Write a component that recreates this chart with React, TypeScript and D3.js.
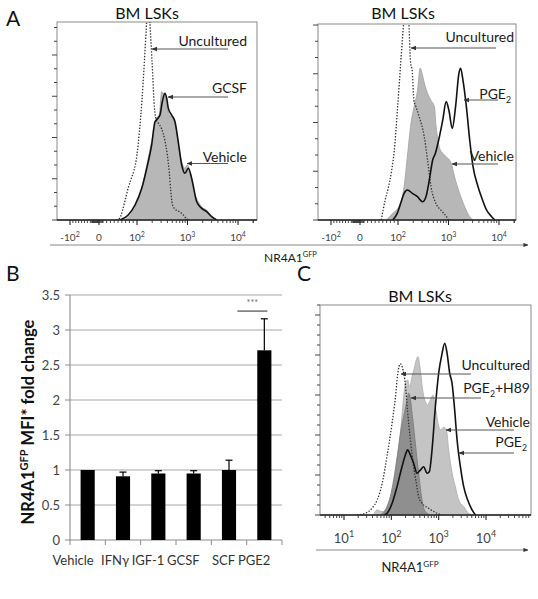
import React from "react";
import * as d3 from "d3";

type Pt = [number, number];

const W = 538;
const H = 599;

// ---------- Panel A (left): GCSF vs Vehicle vs Uncultured  [intensity, % of max] ----------
const aLeftUncultured: Pt[] = [
  [45, 0], [55, 1], [62, 5], [70, 11], [78, 17], [85, 21], [92, 25], [100, 33], [112, 45],
  [125, 60], [140, 80], [155, 100], [168, 114], [180, 100], [189, 90], [205, 73], [217, 60],
  [238, 51], [264, 49], [308, 46], [358, 40], [398, 33], [436, 24], [465, 15], [500, 8],
  [565, 5.5], [710, 4], [826, 2.5], [966, 0.5], [1050, 0],
];
const aLeftVehicle: Pt[] = [
  [68, 0], [89, 4.2], [115, 12.6], [156, 27.8], [195, 39.5], [227, 48], [245, 51.4], [276, 53],
  [308, 64.8], [332, 64], [358, 63.1], [387, 58.1], [436, 53], [523, 51.4], [592, 46.5],
  [657, 37.9], [768, 29.4], [892, 26.1], [991, 27.8], [1121, 24.4], [1303, 16], [1636, 9.2],
  [2056, 5.9], [2400, 5], [2791, 2.5], [3505, 0],
];
const aLeftGCSF: Pt[] = [
  [55, 0], [77, 2.5], [95, 7.6], [124, 16], [156, 26.1], [195, 37.9], [227, 49.6], [252, 51],
  [285, 53], [317, 59.7], [358, 64], [387, 61.5], [417, 56.4], [486, 53], [565, 49.6],
  [657, 39.5], [768, 27.8], [892, 23.6], [1038, 26.1], [1211, 21], [1521, 9.2], [1910, 5.9],
  [2400, 4.2], [3015, 1.7], [3788, 0],
];

// ---------- Panel A (right): PGE2 vs Vehicle vs Uncultured ----------
const aRightUncultured: Pt[] = [
  [56, 0], [66, 10], [74, 16], [83, 25], [90, 35], [98, 55], [113, 80], [122, 92], [130, 101],
  [145, 115], [164, 100.5], [176, 81.6], [193, 74.8], [206, 61.2], [226, 57.8], [263, 52.7],
  [331, 42.5], [385, 30.6], [451, 17], [562, 8.5], [708, 5], [912, 1.7], [1000, 0],
];
const aRightVehicle: Pt[] = [
  [70, 0], [86, 3.4], [105, 7], [132, 17], [153, 32], [180, 49], [209, 58], [243, 66],
  [275, 77.5], [298, 75], [331, 70], [385, 64.6], [451, 61], [525, 57.8], [568, 47.6],
  [661, 37], [769, 34], [899, 32.3], [1132, 28.9], [1318, 22], [1660, 13.6], [2089, 6.8],
  [2630, 1.7], [3062, 0],
];
const aRightPGE2: Pt[] = [
  [86, 0], [98, 3.4], [113, 8.5], [132, 13.6], [153, 15.3], [193, 13.6], [243, 11.9],
  [306, 9.3], [358, 11.9], [417, 20.4], [486, 30.6], [550, 34], [639, 40.8], [769, 51],
  [899, 60.4], [1016, 56.1], [1186, 46.8], [1380, 57.8], [1607, 74.8], [1738, 77.4],
  [1932, 71.4], [2259, 57.8], [2630, 40.8], [3062, 27.2], [3846, 17], [4721, 10.2],
  [5675, 5.1], [7145, 1.7], [8318, 0],
];

// ---------- Panel C ----------
const cUncultured: Pt[] = [
  [19, 0], [28, 0.8], [39, 3.2], [50, 7.1], [64, 15], [81, 28], [104, 44], [122, 56], [136, 67],
  [155, 72], [177, 69], [198, 62], [221, 49], [252, 36], [296, 23], [338, 15], [378, 8.7],
  [446, 5.6], [615, 3.2], [925, 0.8], [1181, 0],
];
const cVehicle: Pt[] = [
  [42, 0], [50, 2.4], [64, 1.6], [81, 3.2], [104, 8.7], [132, 23], [160, 42], [182, 56],
  [198, 62.7], [221, 64.3], [244, 61], [274, 66], [306, 70], [338, 74], [367, 75.4], [410, 69],
  [459, 59.5], [523, 54], [585, 52.4], [668, 54.8], [762, 57], [852, 51.6], [970, 43.7],
  [1086, 40.5], [1276, 41.8], [1455, 40.5], [1627, 31], [1919, 20], [2253, 13.5], [2648, 7.1],
  [3379, 4], [4309, 0.8], [5500, 0],
];
const cH89: Pt[] = [
  [58, 0], [81, 4], [95, 8.7], [112, 16.7], [136, 29.4], [160, 40.5], [188, 48.4], [215, 54.8],
  [232, 58], [252, 55.6], [274, 48.4], [306, 38.9], [338, 29.4], [378, 20], [424, 10.3],
  [482, 3.2], [569, 0.8], [668, 0],
];
const cPGE2: Pt[] = [
  [70, 0], [81, 0.8], [104, 5.6], [132, 13.5], [168, 23], [198, 28.6], [221, 31], [252, 28.6],
  [296, 24.6], [349, 19.9], [410, 21.4], [482, 23], [569, 19.9], [635, 20.6], [724, 31],
  [852, 51.6], [1000, 67.5], [1181, 77], [1341, 81.8], [1506, 77], [1711, 67.5], [1919, 62.7],
  [2148, 51.6], [2449, 35.7], [2876, 23], [3379, 13.5], [4105, 7.1], [5080, 2.4], [5970, 0],
];

// ---------- Panel B ----------
const barCategories = ["Vehicle", "IFNγ", "IGF-1", "GCSF", "SCF", "PGE2"];
const barValues = [1.0, 0.91, 0.95, 0.95, 1.0, 2.71];
const barErrors = [0, 0.06, 0.04, 0.04, 0.14, 0.45];
const barYTicks = [0, 0.5, 1, 1.5, 2, 2.5, 3, 3.5];
const sigLevel = 3.27;
const sigLabel = "***";

// ---------- Axis tick values ----------
const aMajorTicks = [-100, 0, 100, 1000, 10000];
const aTickLabels: [string, string][] = [["-10", "2"], ["0", ""], ["10", "2"], ["10", "3"], ["10", "4"]];
const cMajorTicks = [10, 100, 1000, 10000];
const cTickLabels: [string, string][] = [["10", "1"], ["10", "2"], ["10", "3"], ["10", "4"]];

const FONT = "Lato, 'Open Sans', sans-serif";

function biexScale(x0: number) {
  const lin = d3.scaleLinear().domain([-100, 0, 100]).range([x0 + 13, x0 + 42, x0 + 80]);
  const lg = d3.scaleLog().domain([100, 10000]).range([x0 + 80, x0 + 181]);
  return (v: number) => (v >= 100 ? lg(v) : lin(v));
}

function aMinorTicks(): number[] {
  const t: number[] = [];
  for (let v = -90; v <= 90; v += 10) if (v !== 0) t.push(v);
  for (let v = -25; v <= 10; v += 2.5) t.push(v);
  for (let k = 2; k <= 4; k++) for (let m = 2; m <= 9; m++) t.push(m * Math.pow(10, k));
  t.push(20000);
  return t;
}

function cMinorTicks(lo: number, hi: number): number[] {
  const t: number[] = [];
  for (let k = 0; k <= 4; k++) for (let m = 2; m <= 9; m++) {
    const v = m * Math.pow(10, k);
    if (v >= lo && v <= hi) t.push(v);
  }
  return t;
}

type Series = { data: Pt[]; kind: "area" | "line" | "dotted"; fill?: string; stroke?: string };

function Label({ x, y, parts, size, anchor = "end", weight = 400 }: {
  x: number; y: number; parts: { t: string; sub?: boolean; sup?: boolean }[]; size: number; anchor?: string; weight?: number;
}) {
  return (
    <text x={x} y={y} fontSize={size} fontFamily={FONT} textAnchor={anchor} fill="#1a1a1a" fontWeight={weight}>
      {parts.map((p, i) =>
        p.sub ? (
          <tspan key={i} fontSize={size * 0.62} dy={size * 0.28}>{p.t}</tspan>
        ) : p.sup ? (
          <tspan key={i} fontSize={size * 0.62} dy={-size * 0.38}>{p.t}</tspan>
        ) : (
          <tspan key={i} dy={i > 0 && (parts[i - 1].sub) ? -size * 0.28 : i > 0 && parts[i - 1].sup ? size * 0.38 : 0}>{p.t}</tspan>
        )
      )}
    </text>
  );
}

function Arrow({ x1, x2, y }: { x1: number; x2: number; y: number }) {
  return <line x1={x1} x2={x2} y1={y} y2={y} stroke="#555" strokeWidth={1.1} markerEnd="url(#ah)" />;
}

function HistPanel(props: {
  id: string; x0: number; x1: number; yTop: number; yBase: number;
  xs: (v: number) => number; yStep: number; majorEvery: number;
  majorTicks: number[]; minorTicks: number[]; tickLabels: [string, string][]; labelY: number; labelSize: number;
  series: Series[];
}) {
  const { id, x0, x1, yTop, yBase, xs, yStep, majorEvery, majorTicks, minorTicks, tickLabels, labelY, labelSize, series } = props;
  const ys = d3.scaleLinear().domain([0, 100]).range([yBase, yTop]);
  const area = d3.area<Pt>().x((d) => xs(d[0])).y0(yBase).y1((d) => ys(d[1])).curve(d3.curveMonotoneX);
  const line = d3.line<Pt>().x((d) => xs(d[0])).y((d) => ys(d[1])).curve(d3.curveMonotoneX);
  const yTicks = d3.range(0, 100.01, yStep);
  return (
    <g>
      <clipPath id={id}>
        <rect x={x0} y={yTop} width={x1 - x0} height={yBase - yTop} />
      </clipPath>
      <rect x={x0} y={yTop} width={x1 - x0} height={yBase - yTop} fill="#fff" stroke="#8a8a8a" strokeWidth={1} />
      <g clipPath={`url(#${id})`}>
        {series.map((s, i) =>
          s.kind === "area" ? (
            <path key={i} d={area(s.data) || ""} fill={s.fill} stroke={s.stroke} strokeWidth={0.9} />
          ) : s.kind === "dotted" ? (
            <path key={i} d={line(s.data) || ""} fill="none" stroke="#333" strokeWidth={1.3} strokeDasharray="1.4,1.6" />
          ) : (
            <path key={i} d={line(s.data) || ""} fill="none" stroke={s.stroke || "#111"} strokeWidth={1.6} />
          )
        )}
      </g>
      <line x1={x0} x2={x1} y1={yBase} y2={yBase} stroke="#222" strokeWidth={1.3} />
      {yTicks.map((t, i) => (
        <line key={i} x1={x0} x2={x0 - (i % majorEvery === 0 ? 5 : 3)} y1={ys(t)} y2={ys(t)} stroke="#444" strokeWidth={1} />
      ))}
      {minorTicks.map((t, i) => {
        const x = xs(t);
        if (x < x0 || x > x1) return null;
        return <line key={"m" + i} x1={x} x2={x} y1={yBase} y2={yBase + 3} stroke="#333" strokeWidth={0.9} />;
      })}
      {majorTicks.map((t, i) => (
        <line key={"M" + i} x1={xs(t)} x2={xs(t)} y1={yBase} y2={yBase + 5} stroke="#222" strokeWidth={1.1} />
      ))}
      {majorTicks.map((t, i) => (
        <text key={"L" + i} x={xs(t)} y={labelY} fontSize={labelSize} fontFamily={FONT} fill="#444" textAnchor="middle">
          {tickLabels[i][0]}
          {tickLabels[i][1] && (
            <tspan fontSize={labelSize * 0.7} dy={-labelSize * 0.45}>{tickLabels[i][1]}</tspan>
          )}
        </text>
      ))}
    </g>
  );
}

function PanelB() {
  const xb = d3.scaleBand<string>().domain(barCategories).range([70, 282]).paddingInner(0.6).paddingOuter(0.3);
  const yb = d3.scaleLinear().domain([0, 3.5]).range([540, 295]);
  const step = xb.step();
  const bw = xb.bandwidth();
  const pgeX = (xb("PGE2") as number) + bw / 2;
  return (
    <g>
      {barYTicks.filter((t) => t > 0).map((t) => (
        <line key={t} x1={70} x2={282} y1={yb(t)} y2={yb(t)} stroke="#a8a8a8" strokeWidth={1.1} />
      ))}
      <line x1={70} x2={70} y1={yb(3.5)} y2={yb(0)} stroke="#8c8c8c" strokeWidth={1.1} />
      <line x1={70} x2={282} y1={yb(0)} y2={yb(0)} stroke="#8c8c8c" strokeWidth={1.1} />
      {barYTicks.map((t) => (
        <g key={"t" + t}>
          <line x1={65} x2={70} y1={yb(t)} y2={yb(t)} stroke="#8c8c8c" />
          <text x={60} y={yb(t)} dy="0.35em" fontSize={13} fontFamily={FONT} fill="#444" textAnchor="end">{t}</text>
        </g>
      ))}
      {d3.range(0, barCategories.length + 1).map((i) => (
        <line key={"xt" + i} x1={70 + i * step} x2={70 + i * step} y1={yb(0)} y2={yb(0) + 5} stroke="#8c8c8c" />
      ))}
      {barCategories.map((c, i) => {
        const x = xb(c) as number;
        const cx = x + bw / 2;
        const top = yb(barValues[i]);
        return (
          <g key={c}>
            <rect x={x} y={top} width={bw} height={yb(0) - top} fill="#000" />
            {barErrors[i] > 0 && (
              <g stroke="#000" strokeWidth={1.2}>
                <line x1={cx} x2={cx} y1={top} y2={yb(barValues[i] + barErrors[i])} />
                <line x1={cx - 3.5} x2={cx + 3.5} y1={yb(barValues[i] + barErrors[i])} y2={yb(barValues[i] + barErrors[i])} />
              </g>
            )}
            <text x={cx + 6} y={565} fontSize={13} fontFamily={FONT} fill="#333" textAnchor="end">{c}</text>
          </g>
        );
      })}
      <line x1={pgeX - 27} x2={pgeX + 3} y1={yb(sigLevel)} y2={yb(sigLevel)} stroke="#666" strokeWidth={1.4} />
      <text x={pgeX - 12} y={yb(sigLevel) - 5} fontSize={9} fontFamily={FONT} fill="#666" textAnchor="middle">{sigLabel}</text>
      <g transform="translate(34,422)">
        <g transform="rotate(-90)">
          <text x={0} y={0} fontSize={16.5} fontWeight={700} fontFamily={FONT} fill="#111" textAnchor="middle">
            NR4A1<tspan fontSize={11} dy={-6}>GFP</tspan><tspan dy={6}> MFI* fold change</tspan>
          </text>
        </g>
      </g>
    </g>
  );
}

export default function App() {
  const xsL = biexScale(57);
  const xsR = biexScale(318);
  const xsC = d3.scaleLog().domain([10, 10000]).range([344, 486]);
  const minorA = aMinorTicks();
  const minorC = cMinorTicks(xsC.invert(320), xsC.invert(531));
  return (
    <div style={{ position: "absolute", left: 0, top: 0 }}>
      <svg width={W} height={H} viewBox={`0 0 ${W} ${H}`} style={{ display: "block", background: "#fff" }}>
        <defs>
          <marker id="ah" viewBox="0 0 6 6" refX="5.5" refY="3" markerWidth="5" markerHeight="5" orient="auto">
            <path d="M0,0.5 L6,3 L0,5.5 z" fill="#333" />
          </marker>
        </defs>
        <rect x={0} y={0} width={W} height={H} fill="#fff" />

        {/* Panel letters */}
        <text x={6} y={26} fontSize={21} fontFamily={FONT} fill="#111">A</text>
        <text x={6} y={281} fontSize={21} fontFamily={FONT} fill="#111">B</text>
        <text x={297} y={281} fontSize={21} fontFamily={FONT} fill="#111">C</text>

        {/* Panel A titles */}
        <text x={147} y={19} fontSize={16} fontFamily={FONT} textAnchor="middle" fill="#111">BM LSKs</text>
        <text x={403} y={19} fontSize={16} fontFamily={FONT} textAnchor="middle" fill="#111">BM LSKs</text>

        <HistPanel id="cA1" x0={57} x1={257} yTop={22} yBase={220} xs={xsL} yStep={(13.75 / 198) * 100} majorEvery={3}
          majorTicks={aMajorTicks} minorTicks={minorA} tickLabels={aTickLabels} labelY={241} labelSize={10}
          series={[
            { data: aLeftVehicle, kind: "area", fill: "#b7b7b7", stroke: "#a0a0a0" },
            { data: aLeftUncultured, kind: "dotted" },
            { data: aLeftGCSF, kind: "line", stroke: "#111" },
          ]} />
        <HistPanel id="cA2" x0={318} x1={516} yTop={24} yBase={220} xs={xsR} yStep={(16.25 / 196) * 100} majorEvery={3}
          majorTicks={aMajorTicks} minorTicks={minorA} tickLabels={aTickLabels} labelY={241} labelSize={10}
          series={[
            { data: aRightVehicle, kind: "area", fill: "#b7b7b7", stroke: "#a5a5a5" },
            { data: aRightUncultured, kind: "dotted" },
            { data: aRightPGE2, kind: "line", stroke: "#111" },
          ]} />

        {/* Panel A annotations */}
        <Label x={247} y={46} size={14} parts={[{ t: "Uncultured" }]} />
        <Arrow x1={228} x2={152} y={49} />
        <Label x={247} y={93} size={14} parts={[{ t: "GCSF" }]} />
        <Arrow x1={228} x2={168} y={97} />
        <Label x={247} y={162} size={14} parts={[{ t: "Vehicle" }]} />
        <Arrow x1={228} x2={187} y={163.5} />

        <Label x={514} y={42} size={14} parts={[{ t: "Uncultured" }]} />
        <Arrow x1={496} x2={411} y={48} />
        <Label x={511} y={99} size={14} parts={[{ t: "PGE" }, { t: "2", sub: true }]} />
        <Arrow x1={498} x2={464} y={100} />
        <Label x={514} y={161} size={14} parts={[{ t: "Vehicle" }]} />
        <Arrow x1={498} x2={452} y={164} />

        {/* Panel A x axis */}
        <line x1={50} x2={528} y1={245} y2={245} stroke="#888" strokeWidth={1} markerEnd="url(#ah)" />
        <Label x={264} y={262} size={12} anchor="start" parts={[{ t: "NR4A1" }, { t: "GFP", sup: true }]} />

        {/* Panel B */}
        <PanelB />

        {/* Panel C */}
        <text x={420} y={302} fontSize={16} fontFamily={FONT} textAnchor="middle" fill="#111">BM LSKs</text>
        <HistPanel id="cC" x0={320} x1={531} yTop={305} yBase={515} xs={(v) => xsC(v)} yStep={(10 / 210) * 100} majorEvery={4}
          majorTicks={cMajorTicks} minorTicks={minorC} tickLabels={cTickLabels} labelY={543} labelSize={13}
          series={[
            { data: cVehicle, kind: "area", fill: "#c4c4c4", stroke: "#b0b0b0" },
            { data: cH89, kind: "area", fill: "#8f8f8f", stroke: "#7d7d7d" },
            { data: cUncultured, kind: "dotted" },
            { data: cPGE2, kind: "line", stroke: "#111" },
          ]} />
        <Label x={530} y={370} size={14} parts={[{ t: "Uncultured" }]} />
        <Arrow x1={471} x2={401} y={374} />
        <Label x={530} y={393} size={14} parts={[{ t: "PGE" }, { t: "2", sub: true }, { t: "+H89" }]} />
        <Arrow x1={481} x2={411} y={398} />
        <Label x={530} y={427} size={14} parts={[{ t: "Vehicle" }]} />
        <Arrow x1={514} x2={446} y={430} />
        <Label x={527} y={447} size={14} parts={[{ t: "PGE" }, { t: "2", sub: true }]} />
        <Arrow x1={514} x2={459} y={453} />

        <line x1={316} x2={528} y1={550} y2={550} stroke="#888" strokeWidth={1} markerEnd="url(#ah)" />
        <Label x={410} y={572} size={13} anchor="middle" parts={[{ t: "NR4A1" }, { t: "GFP", sup: true }]} />
      </svg>
    </div>
  );
}
